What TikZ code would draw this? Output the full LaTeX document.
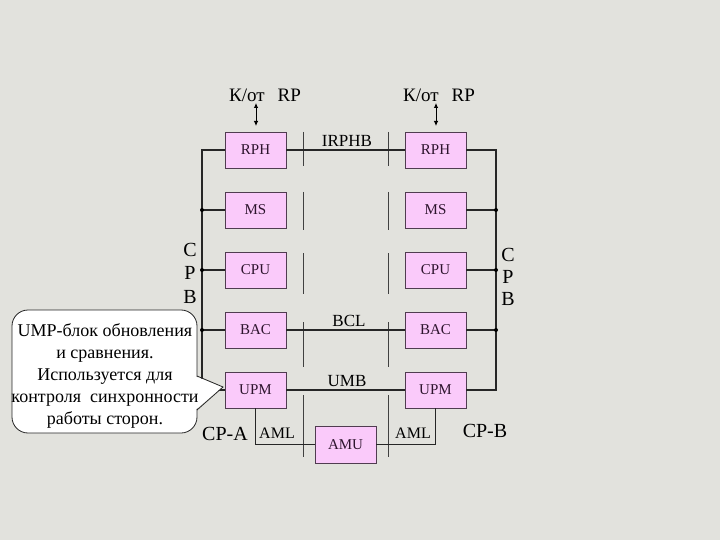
\documentclass[tikz,border=0pt]{standalone}
\usepackage{fontspec}
\setmainfont{Liberation Serif}
\usetikzlibrary{arrows.meta}
\definecolor{bg}{RGB}{226,226,221}
\definecolor{boxpink}{RGB}{250,202,250}
\definecolor{boxedge}{RGB}{80,60,80}
\definecolor{boxtext}{RGB}{45,20,45}
\begin{document}
\begin{tikzpicture}[x=1pt,y=-1pt,
  blk/.style={draw=boxedge, line width=0.8pt, fill=boxpink, minimum width=61pt, minimum height=36pt, inner sep=0pt, text=boxtext, font=\fontsize{15}{18}\selectfont},
  conn/.style={line width=1.4pt, black!85},
  sep/.style={line width=0.8pt, black!75},
  lbl/.style={font=\fontsize{17}{20}\selectfont, inner sep=0pt},
  toplbl/.style={font=\fontsize{19}{22}\selectfont, inner sep=0pt},
  big/.style={font=\fontsize{20}{22}\selectfont, inner sep=0pt},
  dotj/.style={fill=black, circle, inner sep=0pt, minimum size=4pt},
  darr/.style={line width=0.8pt, {Latex[length=5pt,width=4.5pt]}-{Latex[length=5pt,width=4.5pt]}}
]
\useasboundingbox[fill=bg] (0,0) rectangle (720,540);

% top labels and arrows
\node[toplbl] (ltop) at (265,95) {К/от\hspace{13pt}RP};
\node[toplbl] (rtop) at (439,95) {К/от\hspace{13pt}RP};
\coordinate (la1) at (256,103); \coordinate (la2) at (256,126);
\coordinate (ra1) at (436,103); \coordinate (ra2) at (436,126);
\draw[darr] (la1) -- (la2);
\draw[darr] (ra1) -- (ra2);

% separators
\foreach \a/\b in {132/166,192/230,253/294,322/367,395/457}{
  \draw[sep] (303,\a) -- (303,\b);
  \draw[sep] (388,\a) -- (388,\b);
}

% blocks
\node[blk] (lRPH) at (255.5,150) {RPH};
\node[blk] (lMS)  at (255.5,210) {MS};
\node[blk] (lCPU) at (255.5,270) {CPU};
\node[blk] (lBAC) at (255.5,330) {BAC};
\node[blk] (lUPM) at (255.5,390) {UPM};
\node[blk] (rRPH) at (435.5,150) {RPH};
\node[blk] (rMS)  at (435.5,210) {MS};
\node[blk] (rCPU) at (435.5,270) {CPU};
\node[blk] (rBAC) at (435.5,330) {BAC};
\node[blk] (rUPM) at (435.5,390) {UPM};
\node[blk, minimum height=37pt] (AMU) at (345.5,444.5) {AMU};

% buses
\coordinate (LT) at (202,150); \coordinate (LB) at (202,390);
\coordinate (RT) at (496,150); \coordinate (RB) at (496,390);
\draw[conn] (lRPH.west) -- (LT) -- (LB) -- (lUPM.west);
\draw[conn] (rRPH.east) -- (RT) -- (RB) -- (rUPM.east);
\foreach \n in {lMS,lCPU,lBAC}{
  \draw[conn] (\n.west) -- (\n.west -| LT);
  \node[dotj] at (\n.west -| LT) {};
}
\foreach \n in {rMS,rCPU,rBAC}{
  \draw[conn] (\n.east) -- (\n.east -| RT);
  \node[dotj] at (\n.east -| RT) {};
}

% horizontal links
\draw[conn] (lRPH.east) -- (rRPH.west);
\draw[conn] (lBAC.east) -- (rBAC.west);
\draw[conn] (lUPM.east) -- (rUPM.west);
\draw[conn] (lUPM.south) |- (AMU.west);
\draw[conn] (AMU.east) -| (rUPM.south);

\node[lbl] (irphb) at (347,141) {IRPHB};
\node[lbl] (bcl) at (349,321) {BCL};
\node[lbl] (umb) at (347,381) {UMB};
\node[font=\fontsize{16}{18}\selectfont, inner sep=0pt] (amlL) at (277,433) {AML};
\node[font=\fontsize{16}{18}\selectfont, inner sep=0pt] (amlR) at (413,433) {AML};
\node[big] (cpa) at (225,434) {CP-A};
\node[big] (cpb) at (485,431) {CP-B};

% side letters
\node[big] (lc) at (190,250) {C};
\node[big] (lp) at (190,273) {P};
\node[big] (lb) at (190,297) {B};
\node[big] (rc) at (508,255) {C};
\node[big] (rp) at (508,277) {P};
\node[big] (rb) at (508,299) {B};

% callout
\node[draw=black!85, line width=0.8pt, fill=white, rounded corners=16pt, minimum width=185pt, minimum height=123pt, inner sep=0pt] (callout) at (104.5,371.5) {};
\coordinate (cp1) at (197,376); \coordinate (cp2) at (223,387); \coordinate (cp3) at (197,410);
\fill[white] (195.5,376.4) -- (cp2) -- (195.5,409.6) -- cycle;
\draw[line width=0.8pt, black!85] (cp1) -- (cp2) -- (cp3);
\node[align=center, inner sep=0pt, font=\fontsize{18}{22.2}\selectfont] (ctext) at (105,376)
  {UMP-блок обновления\\и сравнения.\\Используется для\\контроля~~синхронности\\работы сторон.};
\end{tikzpicture}
\end{document}
